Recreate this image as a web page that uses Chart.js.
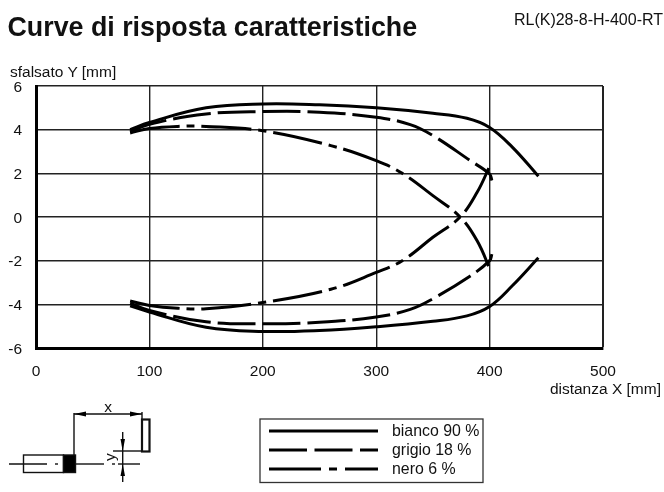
<!DOCTYPE html>
<html lang="it">
<head>
<meta charset="UTF-8">
<title>Curve di risposta caratteristiche</title>
<script src="https://cdn.jsdelivr.net/npm/chart.js"></script>
<style>
  html, body { margin: 0; padding: 0; background: #fff; }
  body { position: relative; width: 664px; height: 492px; overflow: hidden; font-family: "Liberation Sans", sans-serif; color: #111; }
  #wrap { position: absolute; left: 0; top: 0; width: 664px; height: 492px; }
  .txt { position: absolute; white-space: nowrap; line-height: 1; }
  #title { left: 7.5px; top: 14px; font-size: 26.8px; font-weight: bold; }
  #model { right: 1px; top: 12px; font-size: 16px; }
  #ylabel { left: 10px; top: 64px; font-size: 15.5px; }
  #xlabel { right: 3px; top: 381px; font-size: 15.5px; }
  .leg { left: 392px; font-size: 15.9px; }
  svg { position: absolute; left: 0; top: 0; }
</style>
</head>
<body>
<div id="wrap"><canvas id="myChart" width="664" height="492"></canvas></div>

<svg width="664" height="492" xmlns="http://www.w3.org/2000/svg">
  <!-- legend box -->
  <rect x="260" y="419" width="223" height="63.5" fill="none" stroke="#333" stroke-width="1.3"/>
  <line x1="269" y1="431" x2="378" y2="431" stroke="#000" stroke-width="3"/>
  <line x1="269" y1="450" x2="378" y2="450" stroke="#000" stroke-width="3" stroke-dasharray="38 7.5"/>
  <line x1="269" y1="469" x2="378" y2="469" stroke="#000" stroke-width="3" stroke-dasharray="52 8 8 8"/>
  <!-- sensor sketch -->
  <g stroke="#111" stroke-width="1.4" fill="none">
    <line x1="9" y1="464" x2="47" y2="464"/>
    <line x1="55" y1="464" x2="58" y2="464"/>
    <line x1="76" y1="464" x2="104" y2="464"/>
    <line x1="112" y1="464" x2="115" y2="464"/>
    <line x1="118" y1="464" x2="140" y2="464"/>
    <rect x="23.5" y="455" width="40" height="17.5"/>
    <rect x="63.5" y="455" width="12" height="17.5" fill="#000"/>
    <line x1="74" y1="413" x2="74" y2="455"/>
    <line x1="74" y1="414" x2="142" y2="414"/>
    <line x1="142" y1="412" x2="142" y2="419"/>
    <rect x="142" y="419.5" width="7.5" height="32" stroke-width="2.2"/>
    <line x1="113" y1="451" x2="142" y2="451"/>
    <line x1="122.7" y1="432" x2="122.7" y2="482"/>
  </g>
  <g fill="#000">
    <polygon points="74,414 86,411.5 86,416.5"/>
    <polygon points="142,414 130,411.5 130,416.5"/>
    <polygon points="122.7,451 120.5,439 125,439"/>
    <polygon points="122.7,464 120.5,476 125,476"/>
  </g>
  <text x="108" y="412" font-family="Liberation Sans" font-size="15.5" text-anchor="middle" fill="#111">x</text>
  <text transform="translate(115,457) rotate(-90)" font-family="Liberation Sans" font-size="15.5" text-anchor="middle" fill="#111">y</text>
</svg>

<div class="txt" id="title">Curve di risposta caratteristiche</div>
<div class="txt" id="model">RL(K)28-8-H-400-RT</div>
<div class="txt" id="ylabel">sfalsato Y [mm]</div>
<div class="txt" id="xlabel">distanza X [mm]</div>
<div class="txt leg" style="top:423px">bianco 90 %</div>
<div class="txt leg" style="top:442px">grigio 18 %</div>
<div class="txt leg" style="top:461px">nero 6 %</div>

<script>
// curves, x = distance, y = offset
var biancoTopX = [83, 100, 150, 200, 250, 300, 350, 380, 400, 420, 443];
var biancoTopY = [4.0, 4.33, 5.0, 5.18, 5.14, 5.0, 4.75, 4.52, 4.1, 3.2, 1.87];
var biancoBotX = [83, 100, 150, 200, 250, 300, 350, 380, 400, 420, 443];
var biancoBotY = [-4.07, -4.35, -5.05, -5.24, -5.2, -5.03, -4.78, -4.53, -4.1, -3.15, -1.87];

var grigioTopX = [83, 100, 150, 200, 250, 300, 330, 350, 383, 400, 402];
var grigioTopY = [3.9, 4.25, 4.72, 4.83, 4.8, 4.57, 4.23, 3.73, 2.58, 1.97, 1.67];
var grigioBotX = [83, 100, 150, 200, 250, 300, 330, 350, 383, 400, 402];
var grigioBotY = [-3.95, -4.28, -4.8, -4.89, -4.82, -4.58, -4.23, -3.74, -2.7, -2.0, -1.7];

var neroTopX = [83, 100, 125, 150, 200, 260, 300, 323, 350, 374, 389, 401];
var neroTopY = [3.85, 4.05, 4.15, 4.15, 3.95, 3.27, 2.58, 2.0, 0.98, 0, -1.09, -2.47];
var neroBotX = [83, 100, 125, 150, 200, 260, 300, 323, 350, 374, 389, 401];
var neroBotY = [-3.85, -4.05, -4.18, -4.2, -3.92, -3.31, -2.54, -2.0, -0.93, 0, 1.13, 2.43];

var xTicks = [0, 100, 200, 300, 400, 500];
var yTicks = [-6, -4, -2, 0, 2, 4, 6];

function pts(xs, ys) {
    return xs.map(function (x, i) { return { x: x, y: ys[i] }; });
}

function curve(label, xs, ys, dash) {
    return {
        label: label,
        data: pts(xs, ys),
        showLine: true,
        borderColor: '#000',
        borderWidth: 3,
        borderDash: dash,
        pointRadius: 0,
        tension: 0.4,
        fill: false
    };
}

var GREY_DASH = [38, 7];
var BLACK_DASH = [50, 7, 8, 7];

var tickFont = { family: 'Liberation Sans', size: 15.5 };

var chart = new Chart(document.getElementById('myChart').getContext('2d'), {
    type: 'scatter',
    data: {
        datasets: [
            curve('bianco 90 %', biancoTopX, biancoTopY, []),
            curve('bianco 90 %', biancoBotX, biancoBotY, []),
            curve('grigio 18 %', grigioTopX, grigioTopY, GREY_DASH),
            curve('grigio 18 %', grigioBotX, grigioBotY, GREY_DASH),
            curve('nero 6 %', neroTopX, neroTopY, BLACK_DASH),
            curve('nero 6 %', neroBotX, neroBotY, BLACK_DASH)
        ]
    },
    options: {
        responsive: false,
        animation: false,
        layout: { padding: { top: 86, right: 61, bottom: 0, left: 0 } },
        plugins: { legend: { display: false }, tooltip: { enabled: false } },
        scales: {
            x: {
                type: 'linear',
                min: 0,
                max: 500,
                afterBuildTicks: function (s) { s.ticks = xTicks.map(function (v) { return { value: v }; }); },
                afterFit: function (s) { s.height = 144; },
                grid: {
                    color: '#222',
                    lineWidth: function (c) { return c.tick && c.tick.value === 500 ? 2 : 1.4; },
                    drawTicks: false
                },
                border: { color: '#000', width: 3 },
                ticks: { color: '#111', font: tickFont, padding: 14, maxRotation: 0 }
            },
            y: {
                type: 'linear',
                min: -6,
                max: 6,
                afterBuildTicks: function (s) { s.ticks = yTicks.map(function (v) { return { value: v }; }); },
                afterFit: function (s) { s.width = 36; },
                grid: {
                    color: '#222',
                    lineWidth: function (c) { return c.tick && c.tick.value === 6 ? 1.6 : 1.4; },
                    drawTicks: false
                },
                border: { color: '#000', width: 3 },
                ticks: { color: '#111', font: tickFont, padding: 14, labelOffset: 1.5 }
            }
        }
    }
});
</script>
</body>
</html>
